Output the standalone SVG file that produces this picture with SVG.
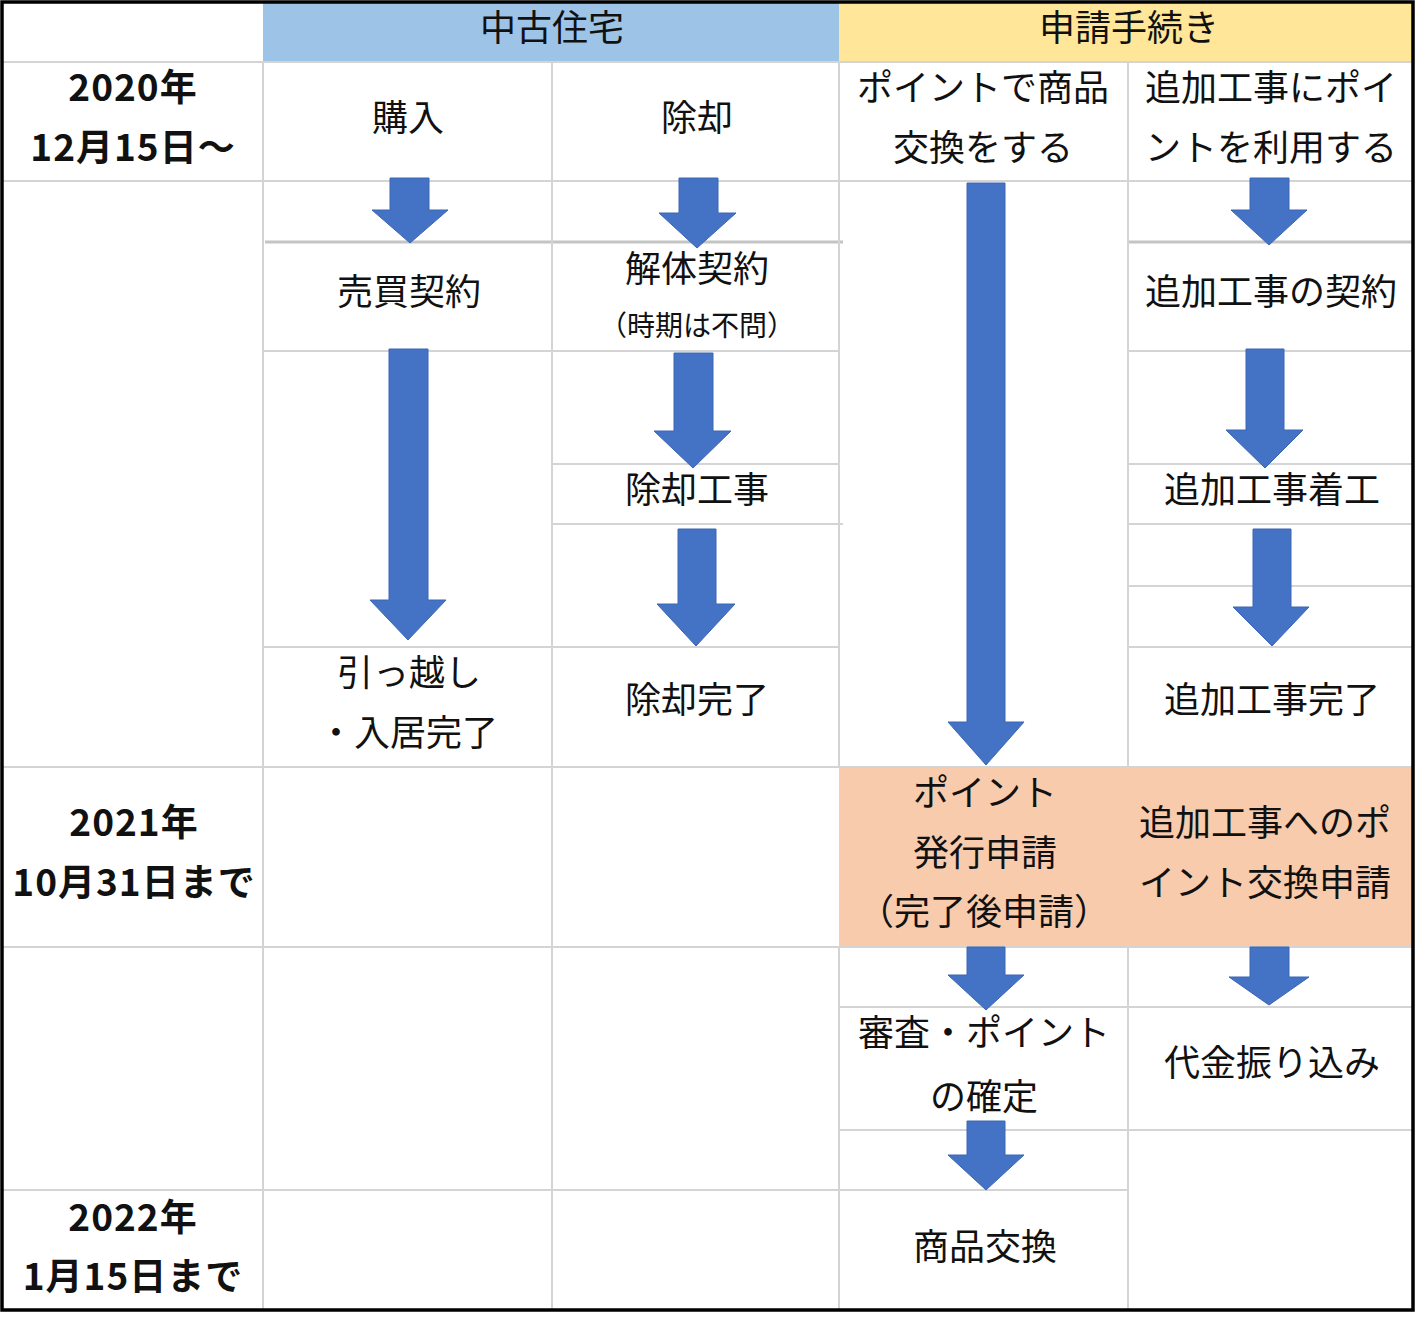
<svg xmlns="http://www.w3.org/2000/svg" width="1420" height="1317" viewBox="0 0 1420 1317">
<style>
.t{font-family:"Noto Sans CJK JP","Noto Sans CJK SC",sans-serif;font-size:36px;fill:#111;text-anchor:middle}
.s{font-size:28px}
.b{font-weight:bold;font-size:37px;letter-spacing:1px}
.g{stroke:#d4d4d4;stroke-width:2;fill:none}
.gd{stroke:#c4c4c4;stroke-width:3;fill:none}
.a{fill:#4472C4;stroke:#3b66b3;stroke-width:1}
</style>
<rect x="0" y="0" width="1420" height="1317" fill="#ffffff"/>
<g id="backgrounds">
<rect x="263" y="2" width="576" height="60" fill="#9DC3E6"/>
<rect x="839" y="2" width="574" height="60" fill="#FFE699"/>
<rect x="839" y="767" width="574" height="180" fill="#F8CBAD"/>
</g>
<g id="grid">
<path class="g" d="M2 62H1413M2 181H1413M263 351H839M1128 351H1413M552 464H839M1128 464H1413M552 524H843M1128 524H1413M1128 586H1413M263 647H839M1128 647H1413M2 767H1413M2 947H1413M839 1007H1413M839 1130H1413M2 1190H1128"/>
<path class="gd" d="M265 242H843M1128 242H1413"/>
<path class="g" d="M263 62V1310M552 62V1310M839 62V767M839 947V1310M1128 62V767M1128 947V1310"/>
</g>
<g id="header-chuko"><text class="t" x="552" y="41">中古住宅</text></g>
<g id="header-shinsei"><text class="t" x="1129" y="41">申請手続き</text></g>
<g id="date-2020"><text class="t b" x="133" y="101">2020年</text><text class="t b" x="133" y="161">12月15日〜</text></g>
<g id="date-2021"><text class="t b" x="134" y="836">2021年</text><text class="t b" x="134" y="896">10月31日まで</text></g>
<g id="date-2022"><text class="t b" x="133" y="1231">2022年</text><text class="t b" x="133" y="1290">1月15日まで</text></g>
<g id="node-konyu"><text class="t" x="408" y="131">購入</text></g>
<g id="node-baibai"><text class="t" x="409" y="305">売買契約</text></g>
<g id="node-hikkoshi"><text class="t" x="409" y="686">引っ越し</text><text class="t" x="408" y="746">・入居完了</text></g>
<g id="node-jokyaku"><text class="t" x="697" y="131">除却</text></g>
<g id="node-kaitai"><text class="t" x="697" y="282">解体契約</text><text class="t s" x="697" y="336">（時期は不問）</text></g>
<g id="node-jokyaku-koji"><text class="t" x="697" y="503">除却工事</text></g>
<g id="node-jokyaku-kanryo"><text class="t" x="697" y="713">除却完了</text></g>
<g id="node-point-shohin"><text class="t" x="983" y="101">ポイントで商品</text><text class="t" x="983" y="161">交換をする</text></g>
<g id="node-point-hakko"><text class="t" x="985" y="806">ポイント</text><text class="t" x="985" y="866">発行申請</text><text class="t" x="984" y="925">（完了後申請）</text></g>
<g id="node-shinsa"><text class="t" x="984" y="1046">審査・ポイント</text><text class="t" x="984" y="1110">の確定</text></g>
<g id="node-shohin-kokan"><text class="t" x="985" y="1260">商品交換</text></g>
<g id="node-tsuika-riyo"><text class="t" x="1271" y="101">追加工事にポイ</text><text class="t" x="1271" y="161">ントを利用する</text></g>
<g id="node-tsuika-keiyaku"><text class="t" x="1271" y="305">追加工事の契約</text></g>
<g id="node-tsuika-chakko"><text class="t" x="1272" y="503">追加工事着工</text></g>
<g id="node-tsuika-kanryo"><text class="t" x="1272" y="713">追加工事完了</text></g>
<g id="node-tsuika-shinsei"><text class="t" x="1265" y="836">追加工事へのポ</text><text class="t" x="1265" y="896">イント交換申請</text></g>
<g id="node-daikin"><text class="t" x="1272" y="1076">代金振り込み</text></g>
<g id="connectors">
<polygon class="a" points="390,178 429,178 429,210 448,210 410,243 372,210 390,210"/>
<polygon class="a" points="389,349 428,349 428,600 446,600 408,640 370,600 389,600"/>
<polygon class="a" points="679,178 718,178 718,213 736,213 697,248 659,213 679,213"/>
<polygon class="a" points="674,353 713,353 713,431 731,431 693,468 654,431 674,431"/>
<polygon class="a" points="678,529 716,529 716,604 735,604 696,646 657,604 678,604"/>
<polygon class="a" points="967,183 1005,183 1005,722 1024,722 986,765 948,722 967,722"/>
<polygon class="a" points="967,947 1005,947 1005,975 1024,975 986,1010 948,975 967,975"/>
<polygon class="a" points="967,1121 1005,1121 1005,1155 1024,1155 986,1190 948,1155 967,1155"/>
<polygon class="a" points="1250,178 1289,178 1289,210 1307,210 1269,245 1231,210 1250,210"/>
<polygon class="a" points="1246,349 1284,349 1284,430 1303,430 1265,468 1226,430 1246,430"/>
<polygon class="a" points="1253,529 1291,529 1291,607 1309,607 1272,646 1233,607 1253,607"/>
<polygon class="a" points="1250,947 1289,947 1289,977 1309,977 1269,1005 1229,977 1250,977"/>
</g>
<rect x="2" y="2" width="1411" height="1308" fill="none" stroke="#000" stroke-width="3.5"/>
</svg>
